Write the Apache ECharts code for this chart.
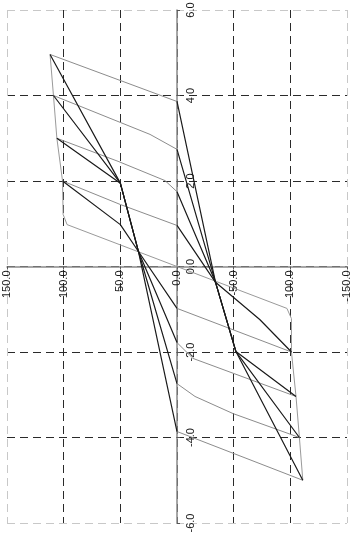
<!DOCTYPE html>
<html>
<head>
<meta charset="utf-8">
<script src="https://cdn.jsdelivr.net/npm/echarts@6/dist/echarts.min.js"></script>
<style>
html, body { margin: 0; padding: 0; background: #fff; }
#chart1 { width: 351px; height: 534px; }
</style>
</head>
<body>
<div id="chart1"></div>
<script>
// axis ticks
var xTicks = [-150, -100, -50, 0, 50, 100, 150];
var yTicks = [-6, -4, -2, 0, 2, 4, 6];

// backbone (skeleton) curve
var backbone = [[-111, -5.0], [-108, -4.0], [-105, -3.04], [-101, -2.0], [-101, -1.22], [-97, -0.98],
    [0, 0], [97, 0.98], [100.5, 1.22], [101, 2.0], [106, 3.0], [109, 4.0], [112, 4.96]];

// unloading branches, peak -> zero crossing
var unload5p = [[112, 4.96], [0, 3.86]];
var unload4p = [[109, 4.0], [23.8, 3.09], [0, 2.74]];
var unload3p = [[106, 3.0], [52, 2.46], [10.6, 2.01], [0, 1.75]];
var unload2p = [[101, 2.0], [50, 1.45], [0, 0.96]];
var unload5n = [[-111, -5.0], [0, -3.86]];
var unload4n = [[-108, -4.0], [-49.4, -3.44], [-15.9, -3.04], [0, -2.74]];
var unload3n = [[-105, -3.04], [-14.1, -2.15], [0, -1.78]];
var unload2n = [[-101, -2.0], [0, -0.98]];

// reloading branches through the pinch points
var reload5n = [[0, 3.86], [-34, -0.37], [-52, -1.99], [-111, -5.0]];
var reload4n = [[0, 2.74], [-34, -0.37], [-52, -1.99], [-108, -4.0]];
var reload3n = [[0, 1.75], [-34, -0.37], [-52, -1.99], [-105, -3.04]];
var reload2n = [[0, 0.96], [-34, -0.37], [-73, -1.24], [-101, -2.0]];
var reload5p = [[0, -3.86], [34, 0.35], [50, 1.95], [112, 4.96]];
var reload4p = [[0, -2.74], [34, 0.35], [50, 1.95], [109, 4.0]];
var reload3p = [[0, -1.78], [34, 0.35], [50, 1.95], [106, 3.0]];
var reload2p = [[0, -0.98], [34, 0.35], [50, 0.98], [101, 2.0]];

var unloading = [unload5p, unload4p, unload3p, unload2p, unload5n, unload4n, unload3n, unload2n];
var reloading = [reload5n, reload4n, reload3n, reload2n, reload5p, reload4p, reload3p, reload2p];

_initChart();

function _initChart () {
    var myChart = echarts.init(document.getElementById('chart1'));

    function lineSeries (data, color, width) {
        return {
            type: 'line',
            data: data,
            showSymbol: false,
            silent: true,
            animation: false,
            lineStyle: { color: color, width: width }
        };
    }

    var series = [lineSeries(backbone, '#9a9a9a', 1)];
    unloading.forEach(function (d) { series.push(lineSeries(d, '#8c8c8c', 1)); });
    reloading.forEach(function (d) { series.push(lineSeries(d, '#1a1a1a', 1.2)); });

    var gridColors = ['#c8c8c8', '#2a2a2a', '#2a2a2a', '#2a2a2a', '#2a2a2a', '#2a2a2a', '#c8c8c8'];
    var labelFmt = function (v) { return v.toFixed(1); };

    var option = {
        backgroundColor: '#fff',
        grid: {
            left: 7,
            right: 4,
            top: 10,
            bottom: 11,
            outerBoundsMode: 'none'
        },
        xAxis: {
            type: 'value',
            position: 'bottom',
            offset: -256.5,   // move the axis up to y = 0
            min: xTicks[0],
            max: xTicks[xTicks.length - 1],
            interval: 50,
            inverse: true,
            axisLine: { onZero: false, lineStyle: { color: '#8a8a8a', width: 1.5 } },
            axisTick: { show: true, length: 3, lineStyle: { color: '#555' } },
            axisLabel: {
                rotate: 90,
                margin: 4,
                color: '#1a1a1a',
                fontSize: 11,
                fontFamily: 'Liberation Sans',
                formatter: labelFmt
            },
            splitLine: {
                show: true,
                lineStyle: { color: gridColors, type: [8, 5], width: 1 }
            }
        },
        yAxis: {
            type: 'value',
            position: 'left',
            offset: -170,     // move the axis right to x = 0
            min: yTicks[0],
            max: yTicks[yTicks.length - 1],
            interval: 2,
            axisLine: { onZero: false, lineStyle: { color: '#8a8a8a', width: 1.5 } },
            axisTick: { show: true, inside: true, length: 3, lineStyle: { color: '#555' } },
            axisLabel: {
                inside: true,
                rotate: 90,
                margin: 8,
                color: '#1a1a1a',
                fontSize: 11,
                fontFamily: 'Liberation Sans',
                formatter: labelFmt
            },
            splitLine: {
                show: true,
                lineStyle: { color: gridColors, type: [8, 5], width: 1 }
            }
        },
        series: series
    };
    myChart.setOption(option);
    window.onresize = myChart.resize;
}
</script>
</body>
</html>
